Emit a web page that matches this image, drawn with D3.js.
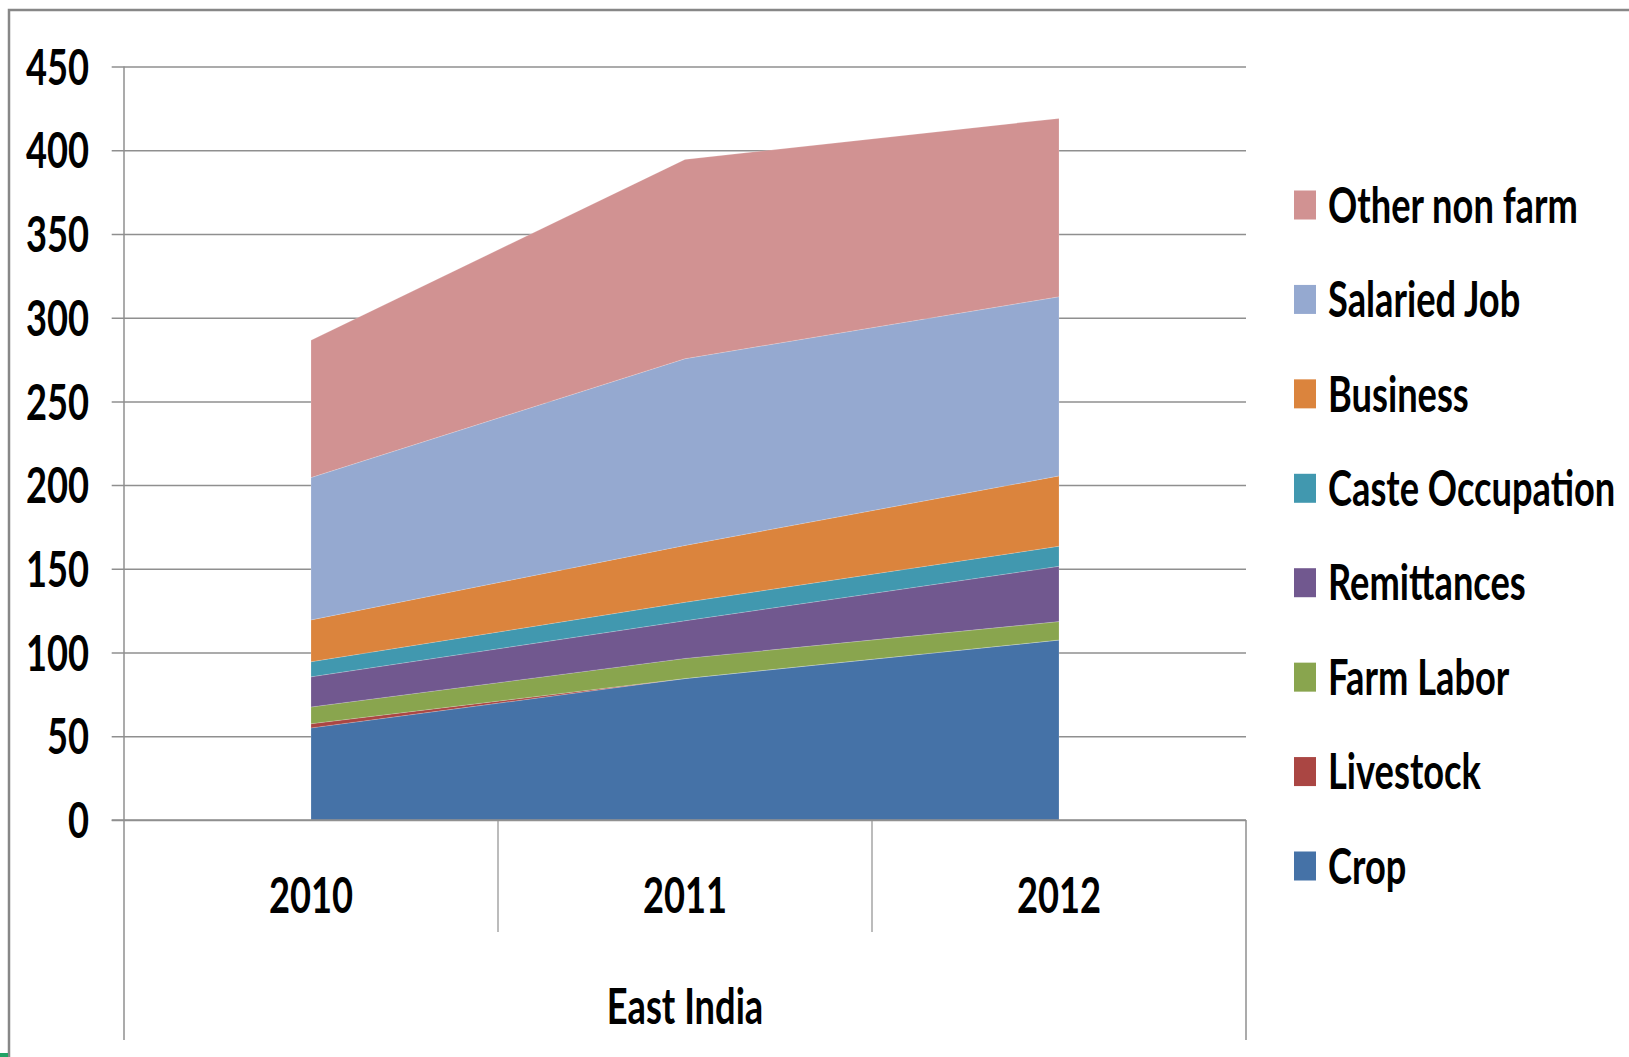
<!DOCTYPE html>
<html>
<head>
<meta charset="utf-8">
<title>East India income sources</title>
<script src="https://d3js.org/d3.v7.min.js"></script>
<style>
  html, body { margin: 0; padding: 0; background: #fff; }
  svg text { font-family: Lato, "Open Sans", sans-serif; font-weight: 700; fill: #000; }
</style>
</head>
<body>
<div id="chart"></div>
<script>
// data
var years = ["2010", "2011", "2012"];
var crop            = [55, 84.5, 107.5];
var livestock       = [2.5, 0, 0];
var farmLabor       = [10, 12, 11];
var remittances     = [18, 22.5, 33];
var casteOccupation = [9, 11, 12];
var business        = [25, 34, 42];
var salariedJob     = [85, 111.5, 107];
var otherNonFarm    = [82, 119, 106.5];

var seriesNames = ["Crop", "Livestock", "Farm Labor", "Remittances", "Caste Occupation", "Business", "Salaried Job", "Other non farm"];
var seriesValues = [crop, livestock, farmLabor, remittances, casteOccupation, business, salariedJob, otherNonFarm];
var seriesColors = ["#4572A7", "#AA4643", "#89A54E", "#71588F", "#4198AF", "#DB843D", "#95A9D0", "#D19292"];
var yTicks = [0, 50, 100, 150, 200, 250, 300, 350, 400, 450];
var xTitle = "East India";

var width = 1629, height = 1057;
var sx = 0.74; // text looks squeezed sideways in the original

var svg = d3.select("#chart").append("svg")
  .attr("width", width)
  .attr("height", height);

var x = d3.scaleBand().domain(years).range([124, 1246]);
var y = d3.scaleLinear().domain([0, 450]).range([820, 66.5]);
function cx(d) { return x(d) + x.bandwidth() / 2; }

// rows for d3.stack
var rows = years.map(function(yr, i) {
  var r = { year: yr };
  seriesNames.forEach(function(n, j) { r[n] = seriesValues[j][i]; });
  return r;
});

// outer frame
svg.append("path")
  .attr("d", "M9,1057 L9,10 L1629,10")
  .attr("fill", "none")
  .attr("stroke", "#878787")
  .attr("stroke-width", 2.5);
svg.append("rect").attr("x", 0).attr("y", 1053).attr("width", 8).attr("height", 4).attr("fill", "#21a366");

// gridlines + y labels
var yAxis = d3.axisLeft(y).tickValues(yTicks).tickSize(1246 - 111.7).tickPadding(22.7);
var gy = svg.append("g").attr("transform", "translate(1246,0)").call(yAxis);
gy.select(".domain").remove();
gy.selectAll(".tick line").attr("stroke", "#8f8f8f").attr("stroke-width", 1.5);
gy.selectAll(".tick text")
  .attr("font-size", 49)
  .attr("font-family", null)
  .attr("dy", "0.36em")
  .attr("transform", function() {
    var tx = +d3.select(this).attr("x");
    return "translate(" + tx + ",0) scale(" + sx + ",1) translate(" + (-tx) + ",0)";
  });

// stacked areas
var stack = d3.stack().keys(seriesNames);
var layers = stack(rows);
var area = d3.area()
  .x(function(d) { return cx(d.data.year); })
  .y0(function(d) { return y(d[0]); })
  .y1(function(d) { return y(d[1]); });

svg.append("g").selectAll("path")
  .data(layers)
  .enter().append("path")
  .attr("d", area)
  .attr("fill", function(d, i) { return seriesColors[i]; })
  .attr("stroke", "#ffffff")
  .attr("stroke-opacity", 0.25)
  .attr("stroke-width", 0.7);

// axis lines
svg.append("line").attr("x1", 124).attr("x2", 124).attr("y1", y(450)).attr("y2", 1040)
  .attr("stroke", "#8f8f8f").attr("stroke-width", 1.5);
svg.append("line").attr("x1", 111.7).attr("x2", 1246).attr("y1", y(0)).attr("y2", y(0))
  .attr("stroke", "#8f8f8f").attr("stroke-width", 1.5);
svg.append("line").attr("x1", 1246).attr("x2", 1246).attr("y1", y(0)).attr("y2", 1040)
  .attr("stroke", "#8f8f8f").attr("stroke-width", 1.5);

// category separators
years.slice(1).forEach(function(yr) {
  svg.append("line").attr("x1", x(yr)).attr("x2", x(yr)).attr("y1", y(0)).attr("y2", 932)
    .attr("stroke", "#8f8f8f").attr("stroke-width", 1.2);
});

// category labels
var xAxis = d3.axisBottom(x).tickSize(0).tickPadding(0);
var gx = svg.append("g").attr("transform", "translate(0," + y(0) + ")").call(xAxis);
gx.select(".domain").remove();
gx.selectAll(".tick text")
  .attr("font-size", 49)
  .attr("font-family", null)
  .attr("y", 75)
  .attr("dy", "0.36em")
  .attr("transform", "scale(" + sx + ",1)");

svg.append("text")
  .attr("transform", "translate(" + (x.range()[0] + x.range()[1]) / 2 + ",1006) scale(" + sx + ",1)")
  .attr("text-anchor", "middle")
  .attr("dy", "0.36em")
  .attr("font-size", 49)
  .text(xTitle);

// legend, top entry is the top layer
var legendOrder = seriesNames.slice().reverse();
var ly = d3.scalePoint().domain(legendOrder).range([205, 866]);
var lg = svg.append("g").selectAll("g")
  .data(legendOrder)
  .enter().append("g")
  .attr("transform", function(d) { return "translate(1294," + ly(d) + ")"; });
lg.append("rect")
  .attr("x", 0).attr("y", -14.5)
  .attr("width", 22).attr("height", 29)
  .attr("fill", function(d) { return seriesColors[seriesNames.indexOf(d)]; });
lg.append("text")
  .attr("transform", "translate(34,0) scale(" + sx + ",1)")
  .attr("dy", "0.36em")
  .attr("font-size", 49)
  .text(function(d) { return d; });
</script>
</body>
</html>
